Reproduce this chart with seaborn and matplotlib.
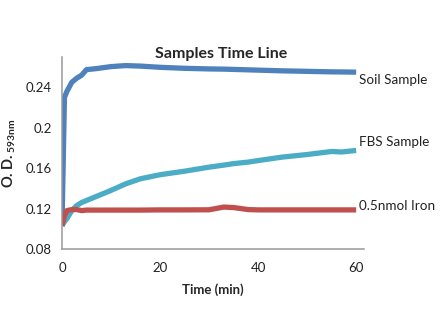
import matplotlib
matplotlib.use("Agg")
import matplotlib.pyplot as plt
import seaborn as sns
import pandas as pd

time_min = [0, 0.5, 1, 2, 3, 4, 5, 7, 10, 13, 16, 20, 25, 30, 33, 35, 38, 40, 45, 50, 55, 57, 60]
soil = [0.103, 0.230, 0.236, 0.245, 0.249, 0.252, 0.2575, 0.2585, 0.2605, 0.2615, 0.261, 0.2598,
        0.2588, 0.2582, 0.258, 0.2577, 0.2573, 0.257, 0.2563, 0.2558, 0.2553, 0.2552, 0.255]
fbs = [0.103, 0.107, 0.110, 0.118, 0.123, 0.126, 0.128, 0.132, 0.138, 0.1445, 0.1495, 0.1535,
       0.157, 0.161, 0.163, 0.1645, 0.166, 0.1675, 0.171, 0.1735, 0.1765, 0.176, 0.1775]
iron = [0.103, 0.113, 0.118, 0.119, 0.119, 0.118, 0.1185, 0.1185, 0.1185, 0.1185, 0.1185, 0.1187,
        0.1187, 0.1188, 0.1215, 0.121, 0.119, 0.1187, 0.1187, 0.1187, 0.1187, 0.1187, 0.1187]
series_names = ["Soil Sample", "FBS Sample", "0.5nmol Iron"]
x_ticks = [0, 20, 40, 60]
y_ticks = [0.08, 0.12, 0.16, 0.2, 0.24]
y_tick_labels = ["0.08", "0.12", "0.16", "0.2", "0.24"]

sns.set_theme(style="white")
plt.rcParams['font.family'] = ['Lato', 'DejaVu Sans']
plt.rcParams['mathtext.fontset'] = 'custom'
plt.rcParams['mathtext.rm'] = 'Lato'
plt.rcParams['mathtext.bf'] = 'Lato:bold'

df = pd.DataFrame({
    "Time": time_min * 3,
    "OD": soil + fbs + iron,
    "Series": [series_names[0]] * len(time_min) + [series_names[1]] * len(time_min) + [series_names[2]] * len(time_min),
})
palette = {"Soil Sample": "#4F81BD", "FBS Sample": "#4BACC6", "0.5nmol Iron": "#C0504D"}

fig = plt.figure(figsize=(4.43, 3.32), dpi=100)
ax = fig.add_axes([62/443, 1 - 249/332, (364 - 62)/443, (249 - 57)/332])
sns.lineplot(data=df, x="Time", y="OD", hue="Series", palette=palette, linewidth=3.8,
             ax=ax, legend=False, sort=False, solid_capstyle='butt')

ax.set_xlim(0, 61.6)
ax.set_ylim(0.08, 0.27)
ax.set_xticks(x_ticks)
ax.set_xticklabels([str(t) for t in x_ticks], fontsize=9.5, color="#222222")
ax.set_yticks(y_ticks)
ax.set_yticklabels(y_tick_labels, fontsize=9.5, color="#222222")
for s in ["top", "right"]:
    ax.spines[s].set_visible(False)
for s in ["left", "bottom"]:
    ax.spines[s].set_color("#999999")
    ax.spines[s].set_linewidth(1.1)
ax.tick_params(axis='x', direction='inout', length=6, width=1, color="#999999", pad=6)
ax.tick_params(axis='y', direction='out', length=4.5, width=1, color="#999999", pad=3)
ax.set_xlabel("Time (min)", fontsize=9.5, fontweight="bold", labelpad=7)
ax.set_ylabel(r"$\mathbf{O.D.}_{\mathbf{593nm}}$", fontsize=10.5, labelpad=5)

fig.text(221/443, 1 - 54/332, "Samples Time Line", ha="center", va="center",
         fontsize=11.5, fontweight="bold")

offsets = {"Soil Sample": -5.5, "FBS Sample": 6, "0.5nmol Iron": 3}
lasts = {"Soil Sample": soil[-1], "FBS Sample": fbs[-1], "0.5nmol Iron": iron[-1]}
for name in series_names:
    ax.annotate(name, xy=(time_min[-1], lasts[name]), xytext=(2, offsets[name]),
                textcoords="offset points", va="center", ha="left", fontsize=9.7,
                color="#222222", annotation_clip=False)

fig.savefig("out.png", dpi=100, facecolor="white")
